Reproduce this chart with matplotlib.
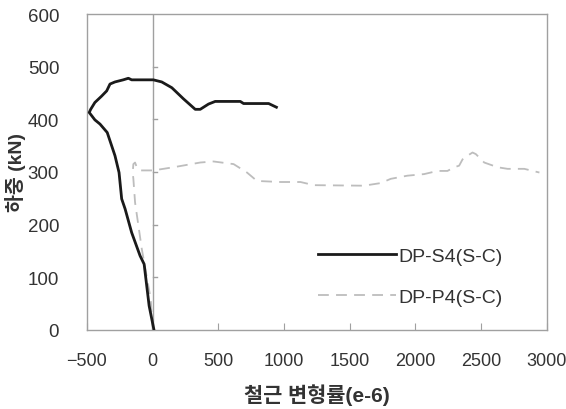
import matplotlib.pyplot as plt

plt.rcParams['font.family'] = ['Liberation Sans', 'Noto Sans CJK KR', 'DejaVu Sans']

# DP-S4(S-C): strain (e-6), load (kN)
s4_strain = [10, -27, -53, -65, -96, -160, -210, -236, -256, -287, -346, -401, -440, -483,
             -472, -440, -389, -350, -325, -287, -224, -185, -160, 5, 69, 146, 234, 324,
             362, 425, 476, 667, 692, 883, 942]
s4_load = [0, 46, 100, 125, 141, 185, 230, 249, 299, 331, 375, 391, 399, 413,
           419, 432, 444, 454, 467, 471, 475, 478, 475, 475, 471, 460, 439, 419,
           419, 429, 434, 434, 430, 430, 423]

# DP-P4(S-C)
p4_strain = [0, -15, -83, -134, -147, -152, -147, -134, -121, -101, 5, 158, 362, 463, 616,
             718, 794, 973, 1125, 1227, 1608, 1737, 1812, 1939, 2066, 2168, 2244, 2295,
             2333, 2359, 2397, 2435, 2460, 2524, 2626, 2702, 2829, 2944]
p4_load = [0, 59, 154, 242, 287, 299, 315, 318, 309, 303, 303, 309, 318, 320, 315,
           299, 283, 281, 281, 275, 274, 279, 287, 293, 296, 302, 302, 309,
           312, 324, 331, 337, 334, 318, 309, 306, 306, 299]

fig = plt.figure(figsize=(5.66, 4.10), dpi=100)
ax = fig.add_axes([0.1537, 0.1927, 0.8123, 0.7707])

ax.plot(s4_strain, s4_load, color='#1a1a1a', lw=2.0, label='DP-S4(S-C)', zorder=3)
ax.plot(p4_strain, p4_load, color='#bdbdbd', lw=1.3, ls=(0, (6, 4)), label='DP-P4(S-C)', zorder=2)

ax.set_xlim(-500, 3000)
ax.set_ylim(0, 600)
ax.set_xticks(range(-500, 3001, 500))
ax.set_yticks(range(0, 601, 100))

for sp in ax.spines.values():
    sp.set_color('#a0a0a0')
    sp.set_linewidth(1.0)

# vertical axis line at x = 0 with its own tick marks
ax.axvline(0, color='#a0a0a0', lw=1.0, zorder=1)
for y in range(100, 600, 100):
    ax.plot([0, 35], [y, y], color='#a0a0a0', lw=1.0, zorder=1)

ax.tick_params(axis='y', length=0, labelsize=13.5, labelcolor='#333333', pad=20)
ax.tick_params(axis='x', direction='in', length=5, color='#a0a0a0', labelsize=13,
               labelcolor='#333333', pad=16)
ax.set_xticklabels([str(v).replace('-', '\u2212') for v in range(-500, 3001, 500)])

ax.set_xlabel('철근 변형률(e-6)', fontsize=15, fontweight='bold', color='#333333', labelpad=10)
ax.set_ylabel('하중 (kN)', fontsize=14, fontweight='bold', color='#333333', va='center')
ax.yaxis.set_label_coords(-0.155, 0.5)

leg = ax.legend(loc='center left', bbox_to_anchor=(0.464, 0.17), frameon=False,
                fontsize=14, handlelength=4.0, handletextpad=0.15, labelspacing=1.2)
for t in leg.get_texts():
    t.set_color('#333333')

fig.savefig('out.png', dpi=100)
